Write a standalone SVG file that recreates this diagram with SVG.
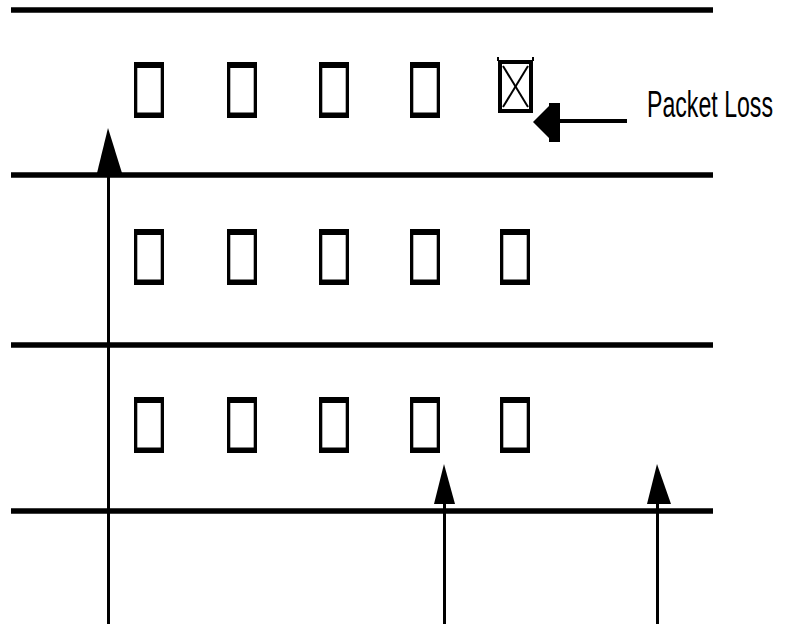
<svg xmlns="http://www.w3.org/2000/svg" width="786" height="624" viewBox="0 0 786 624">
<style>
.rail{stroke:#000;stroke-width:5.5;fill:none}
.wire{stroke:#000;stroke-width:3;fill:none}
.frame{fill:#000}
.hole{fill:#fff}
.tri{fill:#000}
.label{font-family:"Liberation Sans",Arial,sans-serif;font-size:37px;fill:#000}
</style>
<defs>
<g id="pkt">
<rect class="frame" x="0" y="0" width="30" height="56"/>
<rect class="hole" x="3.3" y="6" width="23.4" height="44.5"/>
</g>
</defs>
<rect width="786" height="624" fill="#fff"/>
<g id="connectors">
<line class="rail" x1="11" y1="10" x2="713" y2="10"/>
<line class="rail" x1="11" y1="175" x2="713" y2="175"/>
<line class="rail" x1="11" y1="345" x2="713" y2="345"/>
<line class="rail" x1="11" y1="511" x2="713" y2="511"/>
<line class="wire" x1="108.5" y1="150" x2="108.5" y2="624"/>
<line class="wire" x1="444.5" y1="500" x2="444.5" y2="624"/>
<line class="wire" x1="657.5" y1="500" x2="657.5" y2="624"/>
<polygon class="tri" points="108,128 97,173 122,173"/>
<polygon class="tri" points="444,464 434,504 455,504"/>
<polygon class="tri" points="657,464 647,504 671,504"/>
<line stroke="#000" stroke-width="4" x1="556" y1="121" x2="627" y2="121"/>
<polygon class="tri" points="533,122 549,106 549,103 560,103 560,142 549,142 549,138"/>
</g>
<g id="row1">
<use href="#pkt" x="134" y="62"/>
<use href="#pkt" x="227" y="62"/>
<use href="#pkt" x="319" y="62"/>
<use href="#pkt" x="410" y="62"/>
</g>
<g id="lost-packet">
<rect x="500" y="62" width="31" height="49" fill="#fff" stroke="#000" stroke-width="4"/>
<line x1="498" y1="57" x2="498" y2="61" stroke="#000" stroke-width="2"/>
<line x1="533" y1="57" x2="533" y2="61" stroke="#000" stroke-width="2"/>
<line x1="503" y1="66" x2="528" y2="107" stroke="#000" stroke-width="2"/>
<line x1="528" y1="66" x2="503" y2="107" stroke="#000" stroke-width="2"/>
</g>
<g id="row2">
<use href="#pkt" x="134" y="229"/>
<use href="#pkt" x="227" y="229"/>
<use href="#pkt" x="319" y="229"/>
<use href="#pkt" x="410" y="229"/>
<use href="#pkt" x="500" y="229"/>
</g>
<g id="row3">
<use href="#pkt" x="134" y="397"/>
<use href="#pkt" x="227" y="397"/>
<use href="#pkt" x="319" y="397"/>
<use href="#pkt" x="410" y="397"/>
<use href="#pkt" x="500" y="397"/>
</g>
<g id="label">
<text class="label" x="647" y="117" textLength="126" lengthAdjust="spacingAndGlyphs">Packet Loss</text>
</g>
</svg>
